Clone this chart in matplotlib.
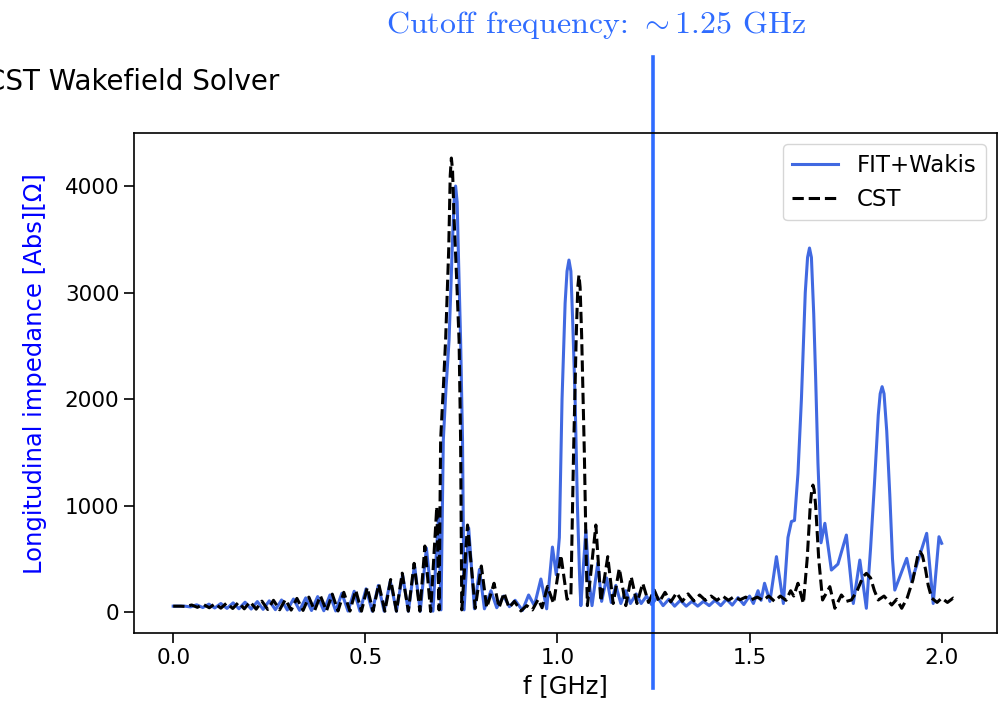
import matplotlib
matplotlib.use("Agg")
import matplotlib.pyplot as plt

# ---------------- data ----------------
# FIT+Wakis (blue solid)
fit_f = [0.000, 0.030, 0.045, 0.061, 0.077, 0.093, 0.108, 0.124, 0.140, 0.156,
         0.171, 0.187, 0.203, 0.219, 0.234, 0.250, 0.266, 0.282, 0.297, 0.313,
         0.329, 0.345, 0.360, 0.376, 0.392, 0.408, 0.423, 0.439, 0.455, 0.471,
         0.486, 0.502, 0.518, 0.534, 0.549, 0.565, 0.581, 0.597, 0.612, 0.628,
         0.643, 0.659, 0.676, 0.691, 0.697, 0.703, 0.710, 0.718, 0.727, 0.731,
         0.735, 0.739, 0.742, 0.748, 0.753, 0.757, 0.769, 0.784, 0.797, 0.810,
         0.827, 0.842, 0.860, 0.875, 0.890, 0.909, 0.925, 0.940, 0.957, 0.972,
         0.987, 0.997, 1.005, 1.012, 1.020, 1.025, 1.030, 1.035, 1.040, 1.046,
         1.052, 1.058, 1.061, 1.067, 1.074, 1.082, 1.090, 1.105, 1.115, 1.128,
         1.140, 1.152, 1.165, 1.178, 1.190, 1.205, 1.218, 1.232, 1.245, 1.260,
         1.275, 1.290, 1.305, 1.320, 1.335, 1.350, 1.365, 1.380, 1.395, 1.410,
         1.425, 1.440, 1.455, 1.470, 1.485, 1.500, 1.510, 1.522, 1.530, 1.539,
         1.553, 1.570, 1.588, 1.600, 1.609, 1.617, 1.626, 1.635, 1.645, 1.651,
         1.656, 1.661, 1.667, 1.672, 1.678, 1.686, 1.696, 1.705, 1.713, 1.730,
         1.752, 1.770, 1.787, 1.804, 1.815, 1.825, 1.835, 1.840, 1.845, 1.850,
         1.857, 1.865, 1.872, 1.878, 1.893, 1.909, 1.922, 1.940, 1.961, 1.978,
         1.993, 2.000]
fit_z = [55, 55, 48, 68, 42, 74, 38, 80, 34, 86,
         31, 92, 28, 98, 25, 105, 22, 113, 19, 122,
         16, 133, 14, 145, 12, 160, 10, 176, 9, 195,
         8, 218, 8, 250, 8, 290, 8, 350, 8, 440,
         8, 600, 8, 920, 20, 1615, 2100, 2554, 3500, 3850,
         4000, 3850, 3400, 2554, 1615, 20, 790, 30, 400, 30,
         200, 40, 150, 50, 110, 15, 160, 60, 310, 30,
         610, 350, 700, 2000, 2900, 3200, 3305, 3200, 2700, 2000,
         1000, 300, 60, 400, 770, 300, 60, 460, 100, 320,
         90, 250, 80, 200, 80, 170, 80, 150, 70, 140,
         60, 120, 55, 110, 55, 100, 55, 100, 60, 110,
         60, 120, 65, 135, 70, 150, 80, 200, 110, 270,
         100, 520, 80, 700, 850, 860, 1300, 2000, 3000, 3330,
         3418, 3330, 2800, 2200, 1400, 650, 833, 600, 394, 450,
         723, 80, 488, 35, 600, 1200, 1850, 2050, 2116, 2050,
         1700, 1100, 500, 206, 350, 504, 285, 500, 739, 80,
         707, 645]

# CST (black dashed)
cst_f = [0.000, 0.020, 0.033, 0.048, 0.063, 0.078, 0.094, 0.109, 0.124, 0.139,
         0.155, 0.170, 0.185, 0.200, 0.216, 0.231, 0.246, 0.261, 0.277, 0.292,
         0.307, 0.322, 0.338, 0.353, 0.368, 0.383, 0.399, 0.414, 0.429, 0.444,
         0.460, 0.475, 0.490, 0.505, 0.520, 0.535, 0.551, 0.566, 0.581, 0.596,
         0.612, 0.627, 0.642, 0.655, 0.670, 0.686, 0.692, 0.696, 0.703, 0.709,
         0.717, 0.721, 0.724, 0.727, 0.731, 0.738, 0.744, 0.748, 0.751, 0.766,
         0.786, 0.802, 0.816, 0.835, 0.848, 0.861, 0.874, 0.888, 0.905, 0.920,
         0.935, 0.950, 0.960, 0.974, 0.990, 1.009, 1.025, 1.035, 1.042, 1.049,
         1.053, 1.056, 1.059, 1.063, 1.070, 1.075, 1.078, 1.100, 1.113, 1.131,
         1.145, 1.161, 1.178, 1.192, 1.207, 1.222, 1.237, 1.252, 1.265, 1.280,
         1.295, 1.310, 1.325, 1.340, 1.355, 1.370, 1.385, 1.400, 1.415, 1.430,
         1.445, 1.460, 1.475, 1.490, 1.505, 1.520, 1.535, 1.550, 1.565, 1.580,
         1.595, 1.607, 1.615, 1.626, 1.640, 1.650, 1.658, 1.662, 1.665, 1.668,
         1.672, 1.680, 1.690, 1.709, 1.722, 1.739, 1.752, 1.765, 1.780, 1.795,
         1.804, 1.815, 1.825, 1.835, 1.850, 1.870, 1.883, 1.896, 1.910, 1.925,
         1.938, 1.944, 1.950, 1.958, 1.965, 1.974, 1.988, 2.000, 2.015, 2.030,
         2.040]
cst_z = [55, 55, 52, 66, 44, 72, 40, 78, 36, 84,
         33, 90, 30, 96, 27, 102, 24, 110, 21, 118,
         18, 128, 15, 140, 13, 153, 11, 168, 10, 185,
         9, 205, 8, 230, 8, 262, 8, 305, 8, 365,
         8, 457, 8, 620, 5, 989, 20, 1615, 2100, 2554,
         3400, 4100, 4263, 4150, 3700, 3100, 2554, 1615, 20, 817,
         35, 432, 40, 270, 40, 180, 40, 100, 10, 60,
         20, 120, 40, 240, 80, 535, 120, 150, 1500, 2600,
         3050, 3164, 3050, 2600, 1500, 500, 60, 817, 100, 520,
         80, 410, 60, 331, 80, 270, 90, 206, 95, 185,
         95, 180, 100, 170, 105, 160, 110, 150, 110, 150,
         110, 145, 115, 140, 115, 140, 110, 150, 100, 150,
         110, 200, 150, 270, 80, 500, 1000, 1150, 1192, 1150,
         1000, 500, 113, 238, 35, 160, 100, 113, 200, 330,
         363, 320, 200, 113, 150, 66, 120, 35, 130, 300,
         530, 566, 530, 400, 250, 131, 90, 131, 90, 131,
         110]

xticks = [0.0, 0.5, 1.0, 1.5, 2.0]
yticks = [0, 1000, 2000, 3000, 4000]
cutoff = 1.25

# ---------------- figure ----------------
plt.rcParams['mathtext.fontset'] = 'cm'
W, H = 1001, 705
fig = plt.figure(figsize=(W / 100, H / 100), dpi=100)
ax = fig.add_axes([134 / W, 1 - 633 / H, (997 - 134) / W, (633 - 133) / H])

ax.plot(fit_f, fit_z, color='royalblue', lw=2.2, label='FIT+Wakis')
ax.plot(cst_f, cst_z, color='black', lw=2.2, ls='--', label='CST')

ax.set_xlim(-0.102, 2.144)
ax.set_ylim(-197, 4498)
ax.set_xticks(xticks)
ax.set_xticklabels([f"{t:.1f}" for t in xticks])
ax.set_yticks(yticks)
ax.tick_params(labelsize=15.5, length=7, width=1.2)
for s in ax.spines.values():
    s.set_linewidth(1.2)

ax.set_xlabel('f [GHz]', fontsize=17.5, labelpad=5)
ax.set_ylabel('Longitudinal impedance [Abs][Ω]', fontsize=17.5, color='blue')
ax.yaxis.set_label_coords(-0.101, 0.518)

ax.legend(loc='upper right', fontsize=16.5)

cut_color = '#2f6cff'
ax.axvline(cutoff, ymin=-0.11, ymax=1.152, color=cut_color, lw=2.6, clip_on=False)

fig.text(386 / W, 1 - 33 / H, 'Cutoff frequency: ${\\sim}$1.25 GHz', color=cut_color,
         fontsize=23, family='cmr10', ha='left', va='baseline')
fig.text(-14 / W, 1 - 90 / H, 'CST Wakefield Solver', fontsize=20,
         ha='left', va='baseline')

fig.savefig('out.png', dpi=100)
